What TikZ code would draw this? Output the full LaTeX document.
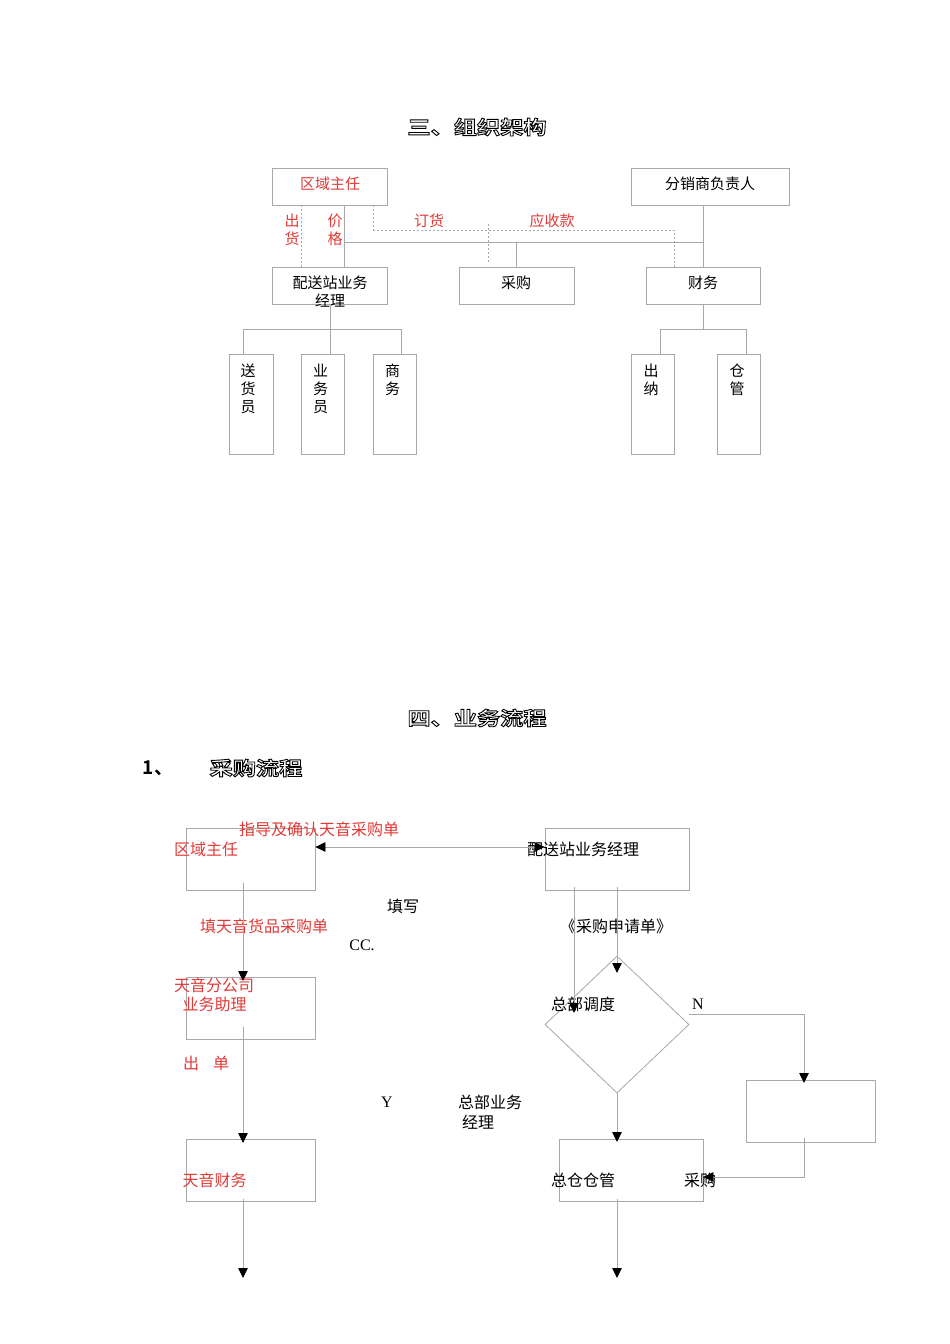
\documentclass[tikz,border=0pt]{standalone}
\usepackage{fontspec}
\setmainfont{Liberation Serif}
\newfontfamily\cjk{Noto Sans CJK SC}
\newfontfamily\cjkhead{Noto Sans CJK SC}[BoldFont={* Bold}, FakeStretch=1.22]
\newfontfamily\cjknum{Noto Sans CJK SC}[BoldFont={* Bold}]
\usetikzlibrary{arrows.meta,shapes.geometric}
\definecolor{lnc}{HTML}{A8A8A8}
\definecolor{redtxt}{HTML}{E23A36}
\newcommand{\hollow}[1]{\special{pdf:literal 1 Tr 0.9 w}#1\special{pdf:literal 0 Tr}}
\tikzset{
  box/.style={draw=lnc, line width=0.8pt, rectangle, inner sep=0pt},
  ln/.style={draw=lnc, line width=0.8pt},
  dln/.style={draw=lnc, line width=0.7pt, dash pattern=on 2pt off 2pt},
  arr/.style={draw=lnc, line width=0.8pt, -{Triangle[length=10pt,width=9.5pt,color=black]}},
  darr/.style={draw=lnc, line width=0.8pt, {Triangle[length=10pt,width=9.5pt,color=black]}-{Triangle[length=10pt,width=9.5pt,color=black]}},
  ot/.style={font=\cjk\fontsize{15}{18}\selectfont, inner sep=0pt, align=center},
  ft/.style={font=\cjk\fontsize{16}{20}\selectfont, inner sep=0pt, align=center},
  rt/.style={text=redtxt},
  head/.style={font=\cjkhead\bfseries\fontsize{19}{22}\selectfont, inner sep=0pt},
}
\begin{document}
\begin{tikzpicture}[x=1pt,y=-1pt]
\useasboundingbox[fill=white] (0,0) rectangle (950,1344);

% ---------------- titles ----------------
\node[head] (t1) at (477,127) {\hollow{三、组织架构}};
\node[head] (t2) at (477,718) {\hollow{四、业务流程}};
\node[font=\cjknum\bfseries\fontsize{19}{22}\selectfont, inner sep=0pt] (t3) at (158,768) {1、};
\node[head] (t4) at (256,768) {\hollow{采购流程}};

% ---------------- org chart boxes ----------------
\node[box, minimum width=115pt, minimum height=37pt] (zr) at (329.5,186.5) {};
\node[box, minimum width=158pt, minimum height=37pt] (fx) at (710,186.5) {};
\node[box, minimum width=115pt, minimum height=37pt] (ps) at (329.5,285.5) {};
\node[box, minimum width=115pt, minimum height=37pt] (cg) at (516.5,285.5) {};
\node[box, minimum width=114pt, minimum height=37pt] (cw) at (703,285.5) {};
\node[box, minimum width=44pt, minimum height=100pt] (shy) at (251,404) {};
\node[box, minimum width=43pt, minimum height=100pt] (ywy) at (322.5,404) {};
\node[box, minimum width=43pt, minimum height=100pt] (sw) at (394.5,404) {};
\node[box, minimum width=43pt, minimum height=100pt] (cn) at (652.5,404) {};
\node[box, minimum width=43pt, minimum height=100pt] (cgn) at (738.5,404) {};

% org texts
\node[ot, rt] (zrt) at (330,184) {区域主任};
\node[ot] (fxt) at (710,184) {分销商负责人};
\node[ot] (pst1) at (330,283) {配送站业务};
\node[ot] (pst2) at (330,301) {经理};
\node[ot] (cgt) at (516,283) {采购};
\node[ot] (cwt) at (703,283) {财务};
\node[ot, rt] (chl) at (292,230) {出\\货};
\node[ot, rt] (jgl) at (335,230) {价\\格};
\node[ot, rt] (dhl) at (429,221) {订货};
\node[ot, rt] (ysl) at (552,221) {应收款};
\node[ot] (shyt) at (248,389) {送\\货\\员};
\node[ot] (ywyt) at (320.5,389) {业\\务\\员};
\node[ot] (swt) at (392.5,380) {商\\务};
\node[ot] (cnt) at (651,380) {出\\纳};
\node[ot] (cgnt) at (737,380) {仓\\管};

% org connectors
\coordinate (h1) at (344,242);
\coordinate (h2) at (703,242);
\coordinate (d1) at (373.5,230);
\coordinate (d2) at (674,230);
\coordinate (ds1) at (488,224);
\coordinate (ds2) at (488,262);
\draw[dln] (zr.south -| 301,0) -- (ps.north -| 301,0);
\draw[ln] (zr.south -| h1) -- (ps.north -| h1);
\draw[ln] (h1) -- (h2);
\draw[ln] (fx.south -| h2) -- (cw.north -| h2);
\draw[ln] (cg.north |- h1) -- (cg.north);
\draw[dln] (zr.south -| d1) -- (d1) -- (d2) -- (cw.north -| d2);
\draw[dln] (ds1) -- (ds2);
\coordinate (b1) at (243,329);
\coordinate (b2) at (401,329);
\draw[ln] (ps.south -| 330,0) -- (ywy.north -| 330,0);
\draw[ln] (shy.north -| b1) -- (b1) -- (b2) -- (sw.north -| b2);
\coordinate (c1) at (660,329);
\coordinate (c2) at (746,329);
\draw[ln] (cw.south) -- (cw.south |- c1);
\draw[ln] (cn.north -| c1) -- (c1) -- (c2) -- (cgn.north -| c2);

% ---------------- flowchart boxes ----------------
\node[box, minimum width=129pt, minimum height=62pt] (fzr) at (250.5,859) {};
\node[box, minimum width=144pt, minimum height=62pt] (fps) at (617,859) {};
\node[box, minimum width=129pt, minimum height=62pt] (fyf) at (250.5,1008) {};
\node[box, minimum width=129pt, minimum height=62pt] (fcw) at (250.5,1170) {};
\node[box, minimum width=144pt, minimum height=62pt] (fzc) at (631,1170) {};
\node[box, minimum width=129pt, minimum height=62pt] (frt) at (810.5,1111) {};
\node[draw=lnc, line width=0.8pt, diamond, inner sep=0pt, minimum width=144pt, minimum height=137pt] (dia) at (617,1024.5) {};

% flowchart texts
\node[ft, rt] (l1) at (319,829) {指导及确认天音采购单};
\node[ft, rt] (l2) at (206,849) {区域主任};
\node[ft] (l3) at (583,849) {配送站业务经理};
\node[ft] (l4) at (403,906) {填写};
\node[ft, rt] (l5) at (264,926) {填天音货品采购单};
\node[font=\fontsize{16}{20}\selectfont, inner sep=0pt] (l6) at (362,945) {CC.};
\node[ft] (l7) at (616,926) {《采购申请单》};
\node[ft, rt] (l8) at (214,985) {天音分公司};
\node[ft, rt] (l9) at (214.5,1004) {业务助理};
\node[ft] (l10) at (583,1004) {总部调度};
\node[font=\fontsize{16}{20}\selectfont, inner sep=0pt] (l11) at (698,1004) {N};
\node[ft, rt] (l12) at (206,1063) {出\hspace{14pt}单};
\node[font=\fontsize{16}{20}\selectfont, inner sep=0pt] (l13) at (387,1102) {Y};
\node[ft] (l14) at (490,1102) {总部业务};
\node[ft] (l15) at (478,1122) {经理};
\node[ft, rt] (l16) at (214.5,1180) {天音财务};
\node[ft] (l17) at (583,1180) {总仓仓管};
\node[ft] (l18) at (700,1180) {采购};

% flowchart connectors
\draw[darr] (fzr.east |- 0,847) -- (fps.west |- 0,847);
\coordinate (e1) at (243,883);
\coordinate (e1b) at (243,981);
\draw[arr] (e1) -- (e1b);
\coordinate (e2) at (243,1027);
\coordinate (e2b) at (243,1143);
\draw[arr] (e2) -- (e2b);
\coordinate (e3) at (243,1199);
\coordinate (e3b) at (243,1278);
\draw[arr] (e3) -- (e3b);
\coordinate (p1) at (574,887);
\coordinate (p1b) at (574,1013);
\draw[arr] (p1) -- (p1b);
\coordinate (p2) at (617,887);
\coordinate (p2b) at (617,973);
\draw[arr] (p2) -- (p2b);
\coordinate (q1) at (617,1142);
\draw[arr] (dia.south) -- (q1);
\coordinate (z1) at (617,1199);
\coordinate (z1b) at (617,1278);
\draw[arr] (z1) -- (z1b);
\coordinate (n1) at (689,1014);
\coordinate (n2) at (804,1014);
\coordinate (n3) at (804,1083);
\draw[arr] (n1) -- (n2) -- (n3);
\coordinate (r1) at (804,1138);
\coordinate (r2) at (804,1177);
\draw[arr] (r1) -- (r2) -- (fzc.east |- r2);
\end{tikzpicture}
\end{document}
